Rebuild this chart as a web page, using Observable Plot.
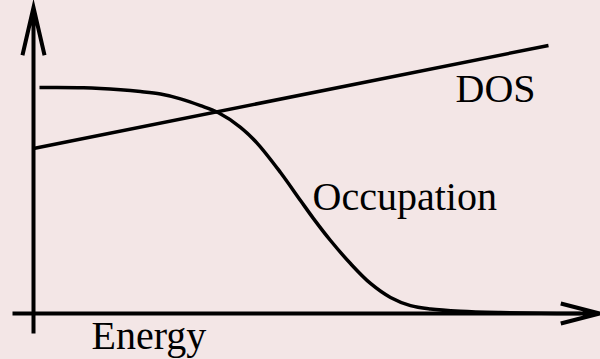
<!DOCTYPE html>
<html>
<head>
<meta charset="utf-8">
<script src="https://cdn.jsdelivr.net/npm/d3@7"></script>
<script src="https://cdn.jsdelivr.net/npm/@observablehq/plot@0.6"></script>
<style>
  html, body { margin: 0; padding: 0; background: #f3e6e6; }
  #chart svg { display: block; }
</style>
</head>
<body>
<div id="chart"></div>
<script>
// Energy axis values (arbitrary units) and occupation (0..1)
const occEnergy = [0.12, 1.0, 1.74, 2.14, 2.54, 2.94, 3.34, 3.70, 4.14, 4.48, 4.94, 5.34, 5.6, 5.94, 6.34, 6.74, 7.14, 7.54, 7.94, 8.54, 9.34, 10.14, 10.94];
const occValue  = [1.0, 0.999, 0.990, 0.982, 0.971, 0.950, 0.920, 0.888, 0.824, 0.752, 0.624, 0.5, 0.42, 0.323, 0.221, 0.133, 0.071, 0.035, 0.020, 0.010, 0.004, 0.001, 0.0];

// Density of states: straight line
const dosEnergy = [0, 10.3];
const dosValue  = [0.73, 1.186];

// Axis extents (data units)
const axisEnergyExtent = [-0.42, 11.32];
const axisValueExtent  = [-0.088, 1.354];

// Labels
const labelText   = ["Energy", "Occupation", "DOS"];
const labelEnergy = [1.16, 5.58, 8.44];
const labelValue  = [-0.159, 0.456, 0.934];

const occupation = occEnergy.map((e, i) => ({e, v: occValue[i]}));
const dos = dosEnergy.map((e, i) => ({e, v: dosValue[i]}));
const labels = labelText.map((t, i) => ({t, e: labelEnergy[i], v: labelValue[i]}));

const chart = Plot.plot({
  width: 600,
  height: 359,
  margin: 0,
  style: {background: "#f3e6e6", color: "black"},
  x: {domain: [-0.66, 11.34], axis: null},
  y: {domain: [-0.2035, 1.385], axis: null},
  marks: [
    // vertical axis with arrow
    Plot.arrow([{}], {
      x1: () => 0, x2: () => 0,
      y1: () => axisValueExtent[0], y2: () => axisValueExtent[1],
      stroke: "black", strokeWidth: 4, headLength: 18.4, headAngle: 26,
      strokeLinecap: "butt", strokeLinejoin: "miter", strokeMiterlimit: 10
    }),
    // horizontal axis with arrow
    Plot.arrow([{}], {
      x1: () => axisEnergyExtent[0], x2: () => axisEnergyExtent[1],
      y1: () => 0, y2: () => 0,
      stroke: "black", strokeWidth: 4, headLength: 15, headAngle: 29,
      strokeLinecap: "butt", strokeLinejoin: "miter", strokeMiterlimit: 10
    }),
    Plot.line(dos, {x: "e", y: "v", stroke: "black", strokeWidth: 3.5, strokeLinecap: "butt"}),
    Plot.line(occupation, {x: "e", y: "v", stroke: "black", strokeWidth: 3.5, curve: "catmull-rom", strokeLinecap: "butt"}),
    Plot.text(labels, {
      x: "e", y: "v", text: "t",
      textAnchor: "start", lineAnchor: "bottom",
      fontFamily: "Liberation Serif", fontSize: 40, fill: "black"
    })
  ]
});
document.getElementById("chart").appendChild(chart);
</script>
</body>
</html>
